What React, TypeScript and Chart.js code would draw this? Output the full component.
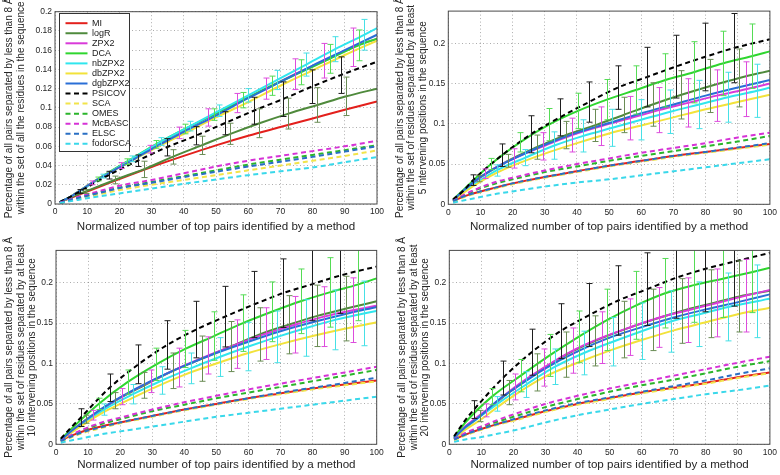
import React, { useEffect, useRef } from "react";
import { Chart, registerables } from "chart.js";

Chart.register(...registerables);

const FONT = "'Liberation Sans', Arial, Helvetica, sans-serif";
Chart.defaults.font.family = FONT;

const METHODS = ["MI", "logR", "ZPX2", "DCA", "nbZPX2", "dbZPX2", "dgbZPX2", "PSICOV", "SCA", "OMES", "McBASC", "ELSC", "fodorSCA"];
const LINE_COLORS = ["#e3201c", "#4f8a3c", "#d93ad9", "#2fd62f", "#30e6ee", "#f2e23a", "#2a6fd6", "#000000", "#f2e44a", "#2bb52b", "#d632d6", "#2a6fc4", "#3ad8ea"];
const ERROR_COLORS = [null, "#6a8c55", "#dd4cdd", "#55dc55", "#46e0e6", null, null, "#1e1e1e", null, null, null, null, null];
const DASHED = [false, false, false, false, false, false, false, true, true, true, true, true, true];

const X_TITLE = "Normalized number of top pairs identified by a method";
const Y_TITLE_1 = "Percentage of all pairs separated by less than 8 Å";

// x positions of the sampled points (bar-carrying series have their own)
const X_BASE = [1.5, 5, 10, 15, 20, 30, 40, 50, 60, 70, 80, 90, 100];
const X_PSICOV = [1.5, 5, 7.7, 16.7, 25.7, 34.7, 43.7, 52.7, 61.7, 70.7, 79.7, 88.7, 100];
const X_LOGR = [1.5, 5, 9.5, 18.5, 27.5, 36.5, 45.5, 54.5, 63.5, 72.5, 81.5, 90.5, 100];
const X_ZPX2 = [1.5, 5, 11.5, 20.5, 29.5, 38.5, 47.5, 56.5, 65.5, 74.5, 83.5, 92.5, 100];
const X_DCA = [1.5, 5, 13.3, 22.3, 31.3, 40.3, 49.3, 58.3, 67.3, 76.3, 85.3, 94.3, 100];
const X_NB = [1.5, 5, 15, 24, 33, 42, 51, 60, 69, 78, 87, 96, 100];
const SERIES_X = [X_BASE, X_LOGR, X_ZPX2, X_DCA, X_NB, X_BASE, X_BASE, X_PSICOV, X_BASE, X_BASE, X_BASE, X_BASE, X_BASE];

// ---- Panel 1: all residues
const TL_MI = [0.002, 0.0065, 0.013, 0.0195, 0.026, 0.0385, 0.05, 0.061, 0.071, 0.08, 0.089, 0.098, 0.1066];
const TL_LOGR = [0.002, 0.007, 0.013, 0.025, 0.036, 0.049, 0.061, 0.073, 0.084, 0.094, 0.103, 0.112, 0.12];
const TL_ZPX2 = [0.002, 0.008, 0.022, 0.04, 0.057, 0.074, 0.09, 0.105, 0.12, 0.135, 0.149, 0.163, 0.172];
const TL_DCA = [0.002, 0.008, 0.026, 0.044, 0.062, 0.078, 0.093, 0.108, 0.123, 0.137, 0.151, 0.165, 0.172];
const TL_NB = [0.002, 0.008, 0.029, 0.047, 0.065, 0.081, 0.097, 0.113, 0.129, 0.145, 0.161, 0.176, 0.183];
const TL_DB = [0.002, 0.008, 0.019, 0.029, 0.038, 0.056, 0.073, 0.09, 0.106, 0.123, 0.139, 0.155, 0.17];
const TL_DGB = [0.002, 0.008, 0.019, 0.029, 0.038, 0.057, 0.075, 0.092, 0.11, 0.127, 0.144, 0.16, 0.176];
const TL_PSICOV = [0.002, 0.008, 0.013, 0.03, 0.045, 0.059, 0.071, 0.084, 0.097, 0.109, 0.122, 0.134, 0.148];
const TL_SCA = [0.001, 0.004, 0.0075, 0.011, 0.0145, 0.02, 0.025, 0.03, 0.035, 0.04, 0.045, 0.05, 0.0557];
const TL_OMES = [0.001, 0.0045, 0.009, 0.013, 0.017, 0.023, 0.029, 0.035, 0.041, 0.046, 0.051, 0.056, 0.061];
const TL_MCBASC = [0.0015, 0.005, 0.01, 0.0145, 0.019, 0.025, 0.032, 0.039, 0.045, 0.05, 0.055, 0.06, 0.0657];
const TL_ELSC = [0.001, 0.0045, 0.0085, 0.0125, 0.0165, 0.022, 0.028, 0.0335, 0.039, 0.044, 0.049, 0.0545, 0.06];
const TL_FODOR = [0.001, 0.003, 0.006, 0.0085, 0.011, 0.016, 0.021, 0.0255, 0.03, 0.034, 0.038, 0.0435, 0.0488];
const TL_PSICOV_ERR = [null, null, 0.002, 0.004, 0.006, 0.009, 0.0095, 0.012, 0.014, 0.018, 0.0175, 0.019, null];
const TL_LOGR_ERR = [null, null, 0.002, 0.004, 0.0085, 0.0075, 0.0095, 0.011, 0.015, 0.016, 0.018, 0.02, null];
const TL_ZPX2_ERR = [null, null, 0.002, 0.003, 0.004, 0.006, 0.009, 0.01, 0.011, 0.016, 0.018, 0.02, null];
const TL_DCA_ERR = [null, null, 0.002, 0.003, 0.004, 0.005, 0.006, 0.008, 0.01, 0.013, 0.015, 0.016, null];
const TL_NB_ERR = [null, null, 0.002, 0.003, 0.004, 0.005, 0.006, 0.007, 0.01, 0.012, 0.013, 0.016, null];

// ---- Panel 2: at least 5 intervening positions
const TR_MI = [0.004, 0.01, 0.016, 0.021, 0.026, 0.034, 0.041, 0.048, 0.054, 0.06, 0.065, 0.07, 0.075];
const TR_LOGR = [0.005, 0.017, 0.032, 0.054, 0.071, 0.086, 0.098, 0.111, 0.124, 0.136, 0.147, 0.157, 0.166];
const TR_ZPX2 = [0.005, 0.017, 0.038, 0.057, 0.072, 0.086, 0.097, 0.107, 0.117, 0.126, 0.135, 0.143, 0.15];
const TR_DCA = [0.006, 0.019, 0.05, 0.077, 0.099, 0.116, 0.13, 0.142, 0.154, 0.164, 0.175, 0.184, 0.19];
const TR_NB = [0.005, 0.016, 0.042, 0.058, 0.073, 0.085, 0.095, 0.105, 0.115, 0.124, 0.133, 0.141, 0.145];
const TR_DB = [0.004, 0.015, 0.028, 0.039, 0.048, 0.063, 0.076, 0.088, 0.098, 0.108, 0.118, 0.127, 0.136];
const TR_DGB = [0.005, 0.018, 0.034, 0.046, 0.056, 0.074, 0.089, 0.101, 0.113, 0.124, 0.135, 0.145, 0.1545];
const TR_PSICOV = [0.006, 0.018, 0.03, 0.061, 0.087, 0.108, 0.127, 0.145, 0.158, 0.171, 0.183, 0.194, 0.205];
const TR_SCA = [0.003, 0.009, 0.015, 0.02, 0.025, 0.033, 0.04, 0.047, 0.053, 0.059, 0.064, 0.069, 0.074];
const TR_OMES = [0.004, 0.011, 0.02, 0.026, 0.031, 0.04, 0.047, 0.054, 0.06, 0.066, 0.072, 0.078, 0.085];
const TR_MCBASC = [0.004, 0.012, 0.021, 0.028, 0.033, 0.042, 0.05, 0.057, 0.064, 0.07, 0.076, 0.083, 0.089];
const TR_ELSC = [0.004, 0.01, 0.016, 0.021, 0.026, 0.034, 0.041, 0.048, 0.054, 0.06, 0.065, 0.0705, 0.076];
const TR_FODOR = [0.002, 0.005, 0.009, 0.013, 0.016, 0.022, 0.027, 0.031, 0.036, 0.041, 0.046, 0.051, 0.056];
const TR_PSICOV_ERR = [null, null, 0.0066, 0.014, 0.023, 0.023, 0.025, 0.027, 0.037, 0.039, 0.042, 0.043, null];
const TR_LOGR_ERR = [null, null, 0.004, 0.008, 0.015, 0.017, 0.02, 0.022, 0.027, 0.03, 0.033, 0.036, null];
const TR_ZPX2_ERR = [null, null, 0.006, 0.012, 0.017, 0.021, 0.024, 0.027, 0.028, 0.03, 0.032, 0.034, null];
const TR_DCA_ERR = [null, null, 0.007, 0.012, 0.02, 0.022, 0.025, 0.03, 0.033, 0.038, 0.04, 0.04, null];
const TR_NB_ERR = [null, null, 0.007, 0.01, 0.017, 0.02, 0.023, 0.025, 0.027, 0.03, 0.031, 0.033, null];

// ---- Panel 3: at least 10 intervening positions
const BL_MI = [0.005, 0.011, 0.018, 0.023, 0.027, 0.035, 0.043, 0.05, 0.057, 0.063, 0.069, 0.074, 0.079];
const BL_LOGR = [0.005, 0.017, 0.031, 0.054, 0.073, 0.091, 0.106, 0.121, 0.136, 0.148, 0.159, 0.168, 0.177];
const BL_ZPX2 = [0.005, 0.017, 0.036, 0.059, 0.078, 0.095, 0.11, 0.124, 0.137, 0.148, 0.158, 0.166, 0.1715];
const BL_DCA = [0.006, 0.02, 0.05, 0.077, 0.099, 0.118, 0.134, 0.15, 0.164, 0.177, 0.188, 0.198, 0.2054];
const BL_NB = [0.005, 0.016, 0.043, 0.062, 0.079, 0.094, 0.108, 0.121, 0.133, 0.144, 0.154, 0.162, 0.165];
const BL_DB = [0.004, 0.015, 0.028, 0.04, 0.05, 0.069, 0.086, 0.1, 0.113, 0.124, 0.134, 0.143, 0.151];
const BL_DGB = [0.005, 0.017, 0.032, 0.046, 0.058, 0.079, 0.097, 0.113, 0.127, 0.14, 0.151, 0.161, 0.17];
const BL_PSICOV = [0.007, 0.022, 0.033, 0.07, 0.099, 0.123, 0.142, 0.158, 0.173, 0.187, 0.198, 0.209, 0.22];
const BL_SCA = [0.003, 0.009, 0.016, 0.021, 0.026, 0.034, 0.042, 0.049, 0.056, 0.062, 0.068, 0.073, 0.078];
const BL_OMES = [0.004, 0.011, 0.02, 0.026, 0.031, 0.041, 0.049, 0.057, 0.064, 0.071, 0.078, 0.085, 0.092];
const BL_MCBASC = [0.004, 0.012, 0.021, 0.028, 0.033, 0.043, 0.052, 0.06, 0.068, 0.075, 0.082, 0.089, 0.096];
const BL_ELSC = [0.004, 0.01, 0.017, 0.022, 0.027, 0.035, 0.043, 0.05, 0.057, 0.064, 0.07, 0.076, 0.0825];
const BL_FODOR = [0.002, 0.005, 0.009, 0.013, 0.016, 0.022, 0.028, 0.034, 0.039, 0.044, 0.049, 0.054, 0.059];
const BL_PSICOV_ERR = [null, null, 0.011, 0.017, 0.024, 0.03, 0.035, 0.0375, 0.041, 0.0425, 0.045, 0.047, null];
const BL_LOGR_ERR = [null, null, 0.005, 0.01, 0.016, 0.022, 0.028, 0.031, 0.033, 0.036, 0.038, 0.04, null];
const BL_ZPX2_ERR = [null, null, 0.006, 0.01, 0.014, 0.024, 0.023, 0.03, 0.032, 0.035, 0.037, 0.04, null];
const BL_DCA_ERR = [null, null, 0.007, 0.015, 0.02, 0.023, 0.03, 0.035, 0.037, 0.04, 0.043, 0.045, null];
const BL_NB_ERR = [null, null, 0.007, 0.012, 0.017, 0.019, 0.024, 0.03, 0.032, 0.035, 0.037, 0.04, null];

// ---- Panel 4: at least 20 intervening positions
const BR_MI = [0.006, 0.012, 0.019, 0.025, 0.03, 0.041, 0.05, 0.057, 0.064, 0.07, 0.076, 0.083, 0.089];
const BR_LOGR = [0.008, 0.022, 0.035, 0.064, 0.089, 0.111, 0.128, 0.142, 0.154, 0.165, 0.174, 0.183, 0.19];
const BR_ZPX2 = [0.008, 0.022, 0.042, 0.071, 0.095, 0.116, 0.132, 0.145, 0.157, 0.166, 0.175, 0.184, 0.191];
const BR_DCA = [0.009, 0.027, 0.059, 0.085, 0.11, 0.133, 0.154, 0.172, 0.187, 0.197, 0.205, 0.213, 0.2185];
const BR_NB = [0.007, 0.02, 0.05, 0.074, 0.096, 0.113, 0.127, 0.14, 0.152, 0.161, 0.17, 0.177, 0.1806];
const BR_DB = [0.006, 0.018, 0.031, 0.046, 0.06, 0.084, 0.101, 0.116, 0.129, 0.141, 0.151, 0.161, 0.169];
const BR_DGB = [0.008, 0.021, 0.036, 0.054, 0.068, 0.094, 0.115, 0.132, 0.145, 0.157, 0.167, 0.176, 0.1856];
const BR_PSICOV = [0.01, 0.03, 0.043, 0.082, 0.114, 0.14, 0.16, 0.178, 0.192, 0.206, 0.217, 0.226, 0.237];
const BR_SCA = [0.005, 0.011, 0.018, 0.024, 0.029, 0.04, 0.049, 0.056, 0.063, 0.069, 0.075, 0.082, 0.088];
const BR_OMES = [0.006, 0.013, 0.021, 0.028, 0.034, 0.046, 0.056, 0.065, 0.073, 0.08, 0.088, 0.096, 0.103];
const BR_MCBASC = [0.006, 0.014, 0.022, 0.03, 0.037, 0.05, 0.06, 0.069, 0.077, 0.085, 0.093, 0.101, 0.1085];
const BR_ELSC = [0.006, 0.012, 0.019, 0.025, 0.031, 0.042, 0.051, 0.058, 0.065, 0.072, 0.079, 0.087, 0.094];
const BR_FODOR = [0.003, 0.006, 0.009, 0.013, 0.017, 0.027, 0.036, 0.043, 0.05, 0.056, 0.062, 0.067, 0.0726];
const BR_PSICOV_ERR = [null, null, 0.011, 0.021, 0.0285, 0.034, 0.039, 0.043, 0.045, 0.05, 0.053, 0.055, null];
const BR_LOGR_ERR = [null, null, 0.007, 0.015, 0.023, 0.028, 0.031, 0.035, 0.038, 0.04, 0.042, 0.044, null];
const BR_ZPX2_ERR = [null, null, 0.008, 0.016, 0.023, 0.028, 0.032, 0.035, 0.037, 0.04, 0.042, 0.045, null];
const BR_DCA_ERR = [null, null, 0.01, 0.02, 0.026, 0.032, 0.038, 0.042, 0.043, 0.046, 0.048, 0.05, null];
const BR_NB_ERR = [null, null, 0.009, 0.016, 0.022, 0.027, 0.03, 0.035, 0.038, 0.04, 0.042, 0.045, null];

type Area = { l: number; r: number; t: number; b: number };
type PanelCfg = {
  left: number; top: number; width: number; height: number; area: Area;
  yMax: number; yStep: number; yTitle: string[]; yTitlePad: number; xTitlePad: number;
  series: number[][]; errors: ((number | null)[] | null)[]; legend: boolean;
};

const PANELS: PanelCfg[] = [
  {
    left: 0, top: 0, width: 390, height: 237, area: { l: 55, r: 377, t: 11.7, b: 204 },
    yMax: 0.2, yStep: 0.02, yTitlePad: 3.5, xTitlePad: 3.3, legend: true,
    yTitle: [Y_TITLE_1, "within the set of all the residues in the sequence"],
    series: [TL_MI, TL_LOGR, TL_ZPX2, TL_DCA, TL_NB, TL_DB, TL_DGB, TL_PSICOV, TL_SCA, TL_OMES, TL_MCBASC, TL_ELSC, TL_FODOR],
    errors: [null, TL_LOGR_ERR, TL_ZPX2_ERR, TL_DCA_ERR, TL_NB_ERR, null, null, TL_PSICOV_ERR, null, null, null, null, null],
  },
  {
    left: 390, top: 0, width: 390, height: 237, area: { l: 58.3, r: 380, t: 11.1, b: 204.3 },
    yMax: 0.24, yStep: 0.05, yTitlePad: 4.2, xTitlePad: 3.3, legend: false,
    yTitle: [Y_TITLE_1, "within the set of residues separated by at least", "5 intervening positions in the sequence"],
    series: [TR_MI, TR_LOGR, TR_ZPX2, TR_DCA, TR_NB, TR_DB, TR_DGB, TR_PSICOV, TR_SCA, TR_OMES, TR_MCBASC, TR_ELSC, TR_FODOR],
    errors: [null, TR_LOGR_ERR, TR_ZPX2_ERR, TR_DCA_ERR, TR_NB_ERR, null, null, TR_PSICOV_ERR, null, null, null, null, null],
  },
  {
    left: 0, top: 237, width: 390, height: 238, area: { l: 56, r: 376.7, t: 13.4, b: 207.3 },
    yMax: 0.24, yStep: 0.05, yTitlePad: 3.5, xTitlePad: 3.0, legend: false,
    yTitle: [Y_TITLE_1, "within the set of residues separated by at least", "10 intervening positions in the sequence"],
    series: [BL_MI, BL_LOGR, BL_ZPX2, BL_DCA, BL_NB, BL_DB, BL_DGB, BL_PSICOV, BL_SCA, BL_OMES, BL_MCBASC, BL_ELSC, BL_FODOR],
    errors: [null, BL_LOGR_ERR, BL_ZPX2_ERR, BL_DCA_ERR, BL_NB_ERR, null, null, BL_PSICOV_ERR, null, null, null, null, null],
  },
  {
    left: 390, top: 237, width: 390, height: 238, area: { l: 59.3, r: 380, t: 13.4, b: 207.3 },
    yMax: 0.24, yStep: 0.05, yTitlePad: 6.9, xTitlePad: 3.0, legend: false,
    yTitle: [Y_TITLE_1, "within the set of residues separated by at least", "20 intervening positions in the sequence"],
    series: [BR_MI, BR_LOGR, BR_ZPX2, BR_DCA, BR_NB, BR_DB, BR_DGB, BR_PSICOV, BR_SCA, BR_OMES, BR_MCBASC, BR_ELSC, BR_FODOR],
    errors: [null, BR_LOGR_ERR, BR_ZPX2_ERR, BR_DCA_ERR, BR_NB_ERR, null, null, BR_PSICOV_ERR, null, null, null, null, null],
  },
];

const TEXT_COLOR = "#262626";
const GRID_COLOR = "rgba(0,0,0,0.32)";

const decorPlugin = {
  id: "panelDecor",
  afterDatasetsDraw(chart: any, _args: any, opts: any) {
    const ctx = chart.ctx;
    const a = chart.chartArea;
    const ys = chart.scales.y;
    // error bars
    ctx.save();
    ctx.beginPath();
    ctx.rect(a.left, a.top, a.right - a.left, a.bottom - a.top);
    ctx.clip();
    ctx.lineWidth = 1;
    ctx.setLineDash([]);
    chart.data.datasets.forEach((ds: any, di: number) => {
      if (!ds.errors) return;
      const meta = chart.getDatasetMeta(di);
      ctx.strokeStyle = ds.errorColor;
      ds.errors.forEach((e: number | null, j: number) => {
        if (e == null) return;
        const v = ds.data[j].y;
        const px = Math.round(meta.data[j].x) + 0.5;
        const yHi = ys.getPixelForValue(v + e);
        const yLo = ys.getPixelForValue(v - e);
        ctx.beginPath();
        ctx.moveTo(px, yHi);
        ctx.lineTo(px, yLo);
        ctx.moveTo(px - 3, yHi);
        ctx.lineTo(px + 3, yHi);
        ctx.moveTo(px - 3, yLo);
        ctx.lineTo(px + 3, yLo);
        ctx.stroke();
      });
    });
    ctx.restore();
    // frame
    ctx.save();
    ctx.strokeStyle = "#4a4a4a";
    ctx.lineWidth = 1;
    ctx.strokeRect(a.left, a.top, a.right - a.left, a.bottom - a.top);
    ctx.restore();
    // legend
    if (opts && opts.legend) {
      const bx = Math.round(a.left + 4) + 0.5;
      const by = Math.round(a.top + 1.3) + 0.5;
      const bw = 70;
      const bh = 138;
      ctx.save();
      ctx.fillStyle = "#ffffff";
      ctx.fillRect(bx, by, bw, bh);
      ctx.strokeStyle = "#333333";
      ctx.lineWidth = 1;
      ctx.strokeRect(bx, by, bw, bh);
      ctx.font = `9px ${FONT}`;
      ctx.textBaseline = "middle";
      ctx.textAlign = "left";
      chart.data.datasets.forEach((ds: any, i: number) => {
        const cy = by + 9.7 + i * 10.05;
        ctx.strokeStyle = ds.borderColor;
        ctx.lineWidth = ds.borderWidth;
        ctx.setLineDash(ds.borderDash || []);
        ctx.beginPath();
        ctx.moveTo(bx + 6, cy);
        ctx.lineTo(bx + 28, cy);
        ctx.stroke();
        ctx.setLineDash([]);
        ctx.fillStyle = "#1a1a1a";
        ctx.fillText(ds.label, bx + 32.5, cy);
      });
      ctx.restore();
    }
  },
};

const fmt = (v: any) => String(parseFloat(Number(v).toFixed(4)));

function Panel({ cfg }: { cfg: PanelCfg }) {
  const ref = useRef<HTMLCanvasElement>(null);
  useEffect(() => {
    const canvas = ref.current;
    if (!canvas) return;
    const { width: W, height: H, area } = cfg;
    const datasets = METHODS.map((name, i) => ({
      label: name,
      data: SERIES_X[i].map((x, j) => ({ x, y: cfg.series[i][j] })),
      borderColor: LINE_COLORS[i],
      backgroundColor: LINE_COLORS[i],
      borderWidth: 2,
      borderDash: DASHED[i] ? [5, 3.5] : [],
      pointRadius: 0,
      pointHoverRadius: 0,
      fill: false,
      cubicInterpolationMode: "monotone",
      order: METHODS.length - i,
      errors: cfg.errors[i],
      errorColor: ERROR_COLORS[i],
    }));
    const chart = new Chart(canvas, {
      type: "line",
      data: { datasets } as any,
      options: {
        responsive: false,
        animation: false,
        devicePixelRatio: 1,
        events: [],
        layout: { padding: { left: 0, top: area.t, right: W - area.r, bottom: 0 }, autoPadding: false },
        plugins: {
          legend: { display: false },
          tooltip: { enabled: false },
          panelDecor: { legend: cfg.legend },
        } as any,
        scales: {
          x: {
            type: "linear",
            min: 0,
            max: 100,
            ticks: { stepSize: 10, padding: 3, color: TEXT_COLOR, font: { size: 8.5 }, autoSkip: false, maxRotation: 0, includeBounds: false },
            grid: { color: GRID_COLOR, lineWidth: 1, drawTicks: false },
            border: { display: false, dash: [1, 2.5] },
            title: { display: true, text: X_TITLE, color: TEXT_COLOR, font: { size: 11.6 }, padding: { top: 0, bottom: cfg.xTitlePad } },
            afterFit: (s: any) => { s.height = H - area.b; },
          },
          y: {
            type: "linear",
            min: 0,
            max: cfg.yMax,
            ticks: { stepSize: cfg.yStep, padding: 3, color: TEXT_COLOR, font: { size: 8.5 }, autoSkip: false, includeBounds: false, callback: fmt },
            grid: { color: GRID_COLOR, lineWidth: 1, drawTicks: false },
            border: { display: false, dash: [1, 2.5] },
            title: { display: true, text: cfg.yTitle, color: TEXT_COLOR, font: { size: 10, lineHeight: 1.15 }, padding: { top: cfg.yTitlePad, bottom: 0 } },
            afterFit: (s: any) => { s.width = area.l; },
          },
        } as any,
      },
      plugins: [decorPlugin as any],
    });
    return () => chart.destroy();
  }, [cfg]);
  return (
    <div style={{ position: "absolute", left: cfg.left, top: cfg.top, width: cfg.width, height: cfg.height }}>
      <canvas ref={ref} width={cfg.width} height={cfg.height} style={{ display: "block", width: cfg.width, height: cfg.height }} />
    </div>
  );
}

export default function App() {
  return (
    <div style={{ position: "absolute", left: 0, top: 0, width: 780, height: 475, background: "#ffffff", overflow: "hidden" }}>
      {PANELS.map((p, i) => (
        <Panel key={i} cfg={p} />
      ))}
    </div>
  );
}
